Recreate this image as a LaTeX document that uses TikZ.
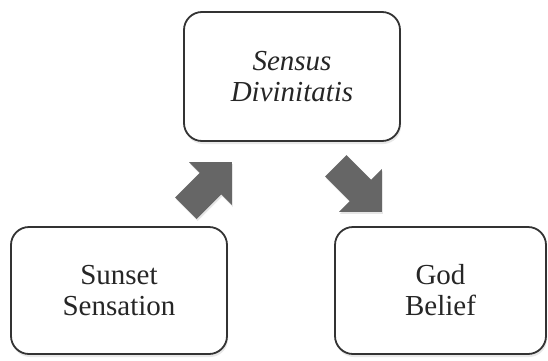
\documentclass[tikz,border=0pt]{standalone}
\usepackage{fontspec}
\setmainfont{Liberation Serif}
\usepackage{tikz}
\usetikzlibrary{shapes.arrows,shadows}

\begin{document}
\begin{tikzpicture}[x=1pt, y=1pt,
  every node/.style={font=\fontsize{29}{31}\selectfont, text=black!85},
  box/.style={draw=black!80, line width=1.8pt, rounded corners=18pt, fill=white, align=center,
    drop shadow={opacity=0.18, shadow xshift=1pt, shadow yshift=-3pt}},
  bigarrow/.style={single arrow, fill=black!60, draw=none, minimum height=65pt, minimum width=60pt,
    single arrow head extend=15pt, inner xsep=0pt, inner ysep=15pt, anchor=tip,
    drop shadow={opacity=0.2, shadow xshift=1pt, shadow yshift=-2pt}}]
\useasboundingbox (0,0) rectangle (548,360);
\node[box, minimum width=216pt, minimum height=129pt] (sensus) at (292,283.5) {\textit{Sensus}\\\textit{Divinitatis}};
\node[box, minimum width=216pt, minimum height=127pt] (sunset) at (119,69.5) {Sunset\\Sensation};
\node[box, minimum width=211pt, minimum height=127pt] (god) at (440.5,69.5) {God\\Belief};
% block arrows
\node[bigarrow, rotate=45] (up) at (232,198) {};
\node[bigarrow, rotate=-45] (down) at (382,148) {};
\end{tikzpicture}
\end{document}
